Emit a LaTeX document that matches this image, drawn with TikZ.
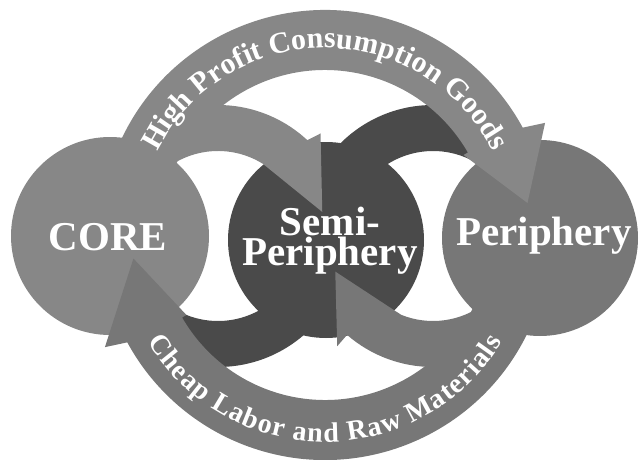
\documentclass[tikz,border=0pt]{standalone}
\usepackage{fontspec}
\setmainfont{Liberation Serif}
\usepackage{xcolor}
\usetikzlibrary{calc}
\usetikzlibrary{decorations.text}
\definecolor{G1}{HTML}{878787}
\definecolor{G2}{HTML}{777777}
\definecolor{G3}{HTML}{4a4a4a}

\begin{document}
\begin{tikzpicture}[x=1pt,y=1pt]
\def \rin {85}
\def \rout {131}
\def \Rin {165}
\def \Rout {225}
\useasboundingbox (0,0) rectangle (643,459);
\coordinate (core) at (110,223);
\coordinate (semi) at (326,219);
\coordinate (peri) at (540,221);
\coordinate (cA) at (218,223);
\coordinate (cB) at (433,223);
\coordinate (cO) at (325,224);
% dark bands
\fill[G3, shift={(cA)}] (0:\rout) arc[start angle=0, end angle=-125, radius=\rout] -- (-125:\rin) arc[start angle=-125, end angle=0, radius=\rin] -- cycle;
\fill[G3, shift={(cB)}] (180:\rout) arc[start angle=180, end angle=55, radius=\rout] -- (55:\rin) arc[start angle=55, end angle=180, radius=\rin] -- cycle;
\fill[G3] (semi) circle[radius=98];
\fill[G1] (core) circle[radius=99];
\fill[G2] (peri) circle[radius=98];
% light bands
\fill[G1, shift={(cA)}] (180:\rout) arc[start angle=180, end angle=47, radius=\rout] -- (45:145) -- (13:107) -- (58:\rin) arc[start angle=58, end angle=180, radius=\rin] -- cycle;
\fill[G2, shift={(cB)}] (0:\rout) arc[start angle=0, end angle=-131, radius=\rout] -- (-131:146) -- (-160:104) -- (-112:\rin) arc[start angle=-112, end angle=0, radius=\rin] -- cycle;
% big arrows
\fill[G1, shift={(cO)}] (160:\Rout) arc[start angle=160, end angle=28.5, radius=\Rout] -- (27:247) -- (9:205) -- (30:160) -- (30:\Rin) arc[start angle=30, end angle=160, radius=\Rin] -- cycle;
\fill[G2, shift={(cO)}] (-20:\Rout) arc[start angle=-20, end angle=-151.5, radius=\Rout] -- (-153:247) -- (-173:193) -- (-150:160) -- (-150:\Rin) arc[start angle=-150, end angle=-20, radius=\Rin] -- cycle;
\path[decorate, decoration={text along path, text align=center, text color=white,
  text={|\bfseries\fontsize{30}{30}\selectfont|High Profit Consumption Goods}}]
  ($(cO)+(160:187)$) arc[start angle=160, end angle=20, radius=187];
\path[decorate, decoration={text along path, text align=fit to path, text color=white,
  text={|\bfseries\fontsize{28}{28}\selectfont|Cheap Labor and Raw Materials}}]
  ($(cO)+(211:207)$) arc[start angle=211, end angle=329, radius=207];
\node[anchor=base, white, font=\bfseries\fontsize{41}{41}\selectfont, inner sep=0] (coretxt) at (108,209) {CORE};
\node[anchor=center, white, font=\bfseries\fontsize{41}{30}\selectfont, inner sep=0, align=center] (semitxt) at (330,218.5) {Semi-\\Periphery};
\node[anchor=base, white, font=\bfseries\fontsize{41}{41}\selectfont, inner sep=0] (peritxt) at (544,214) {Periphery};
\end{tikzpicture}
\end{document}
